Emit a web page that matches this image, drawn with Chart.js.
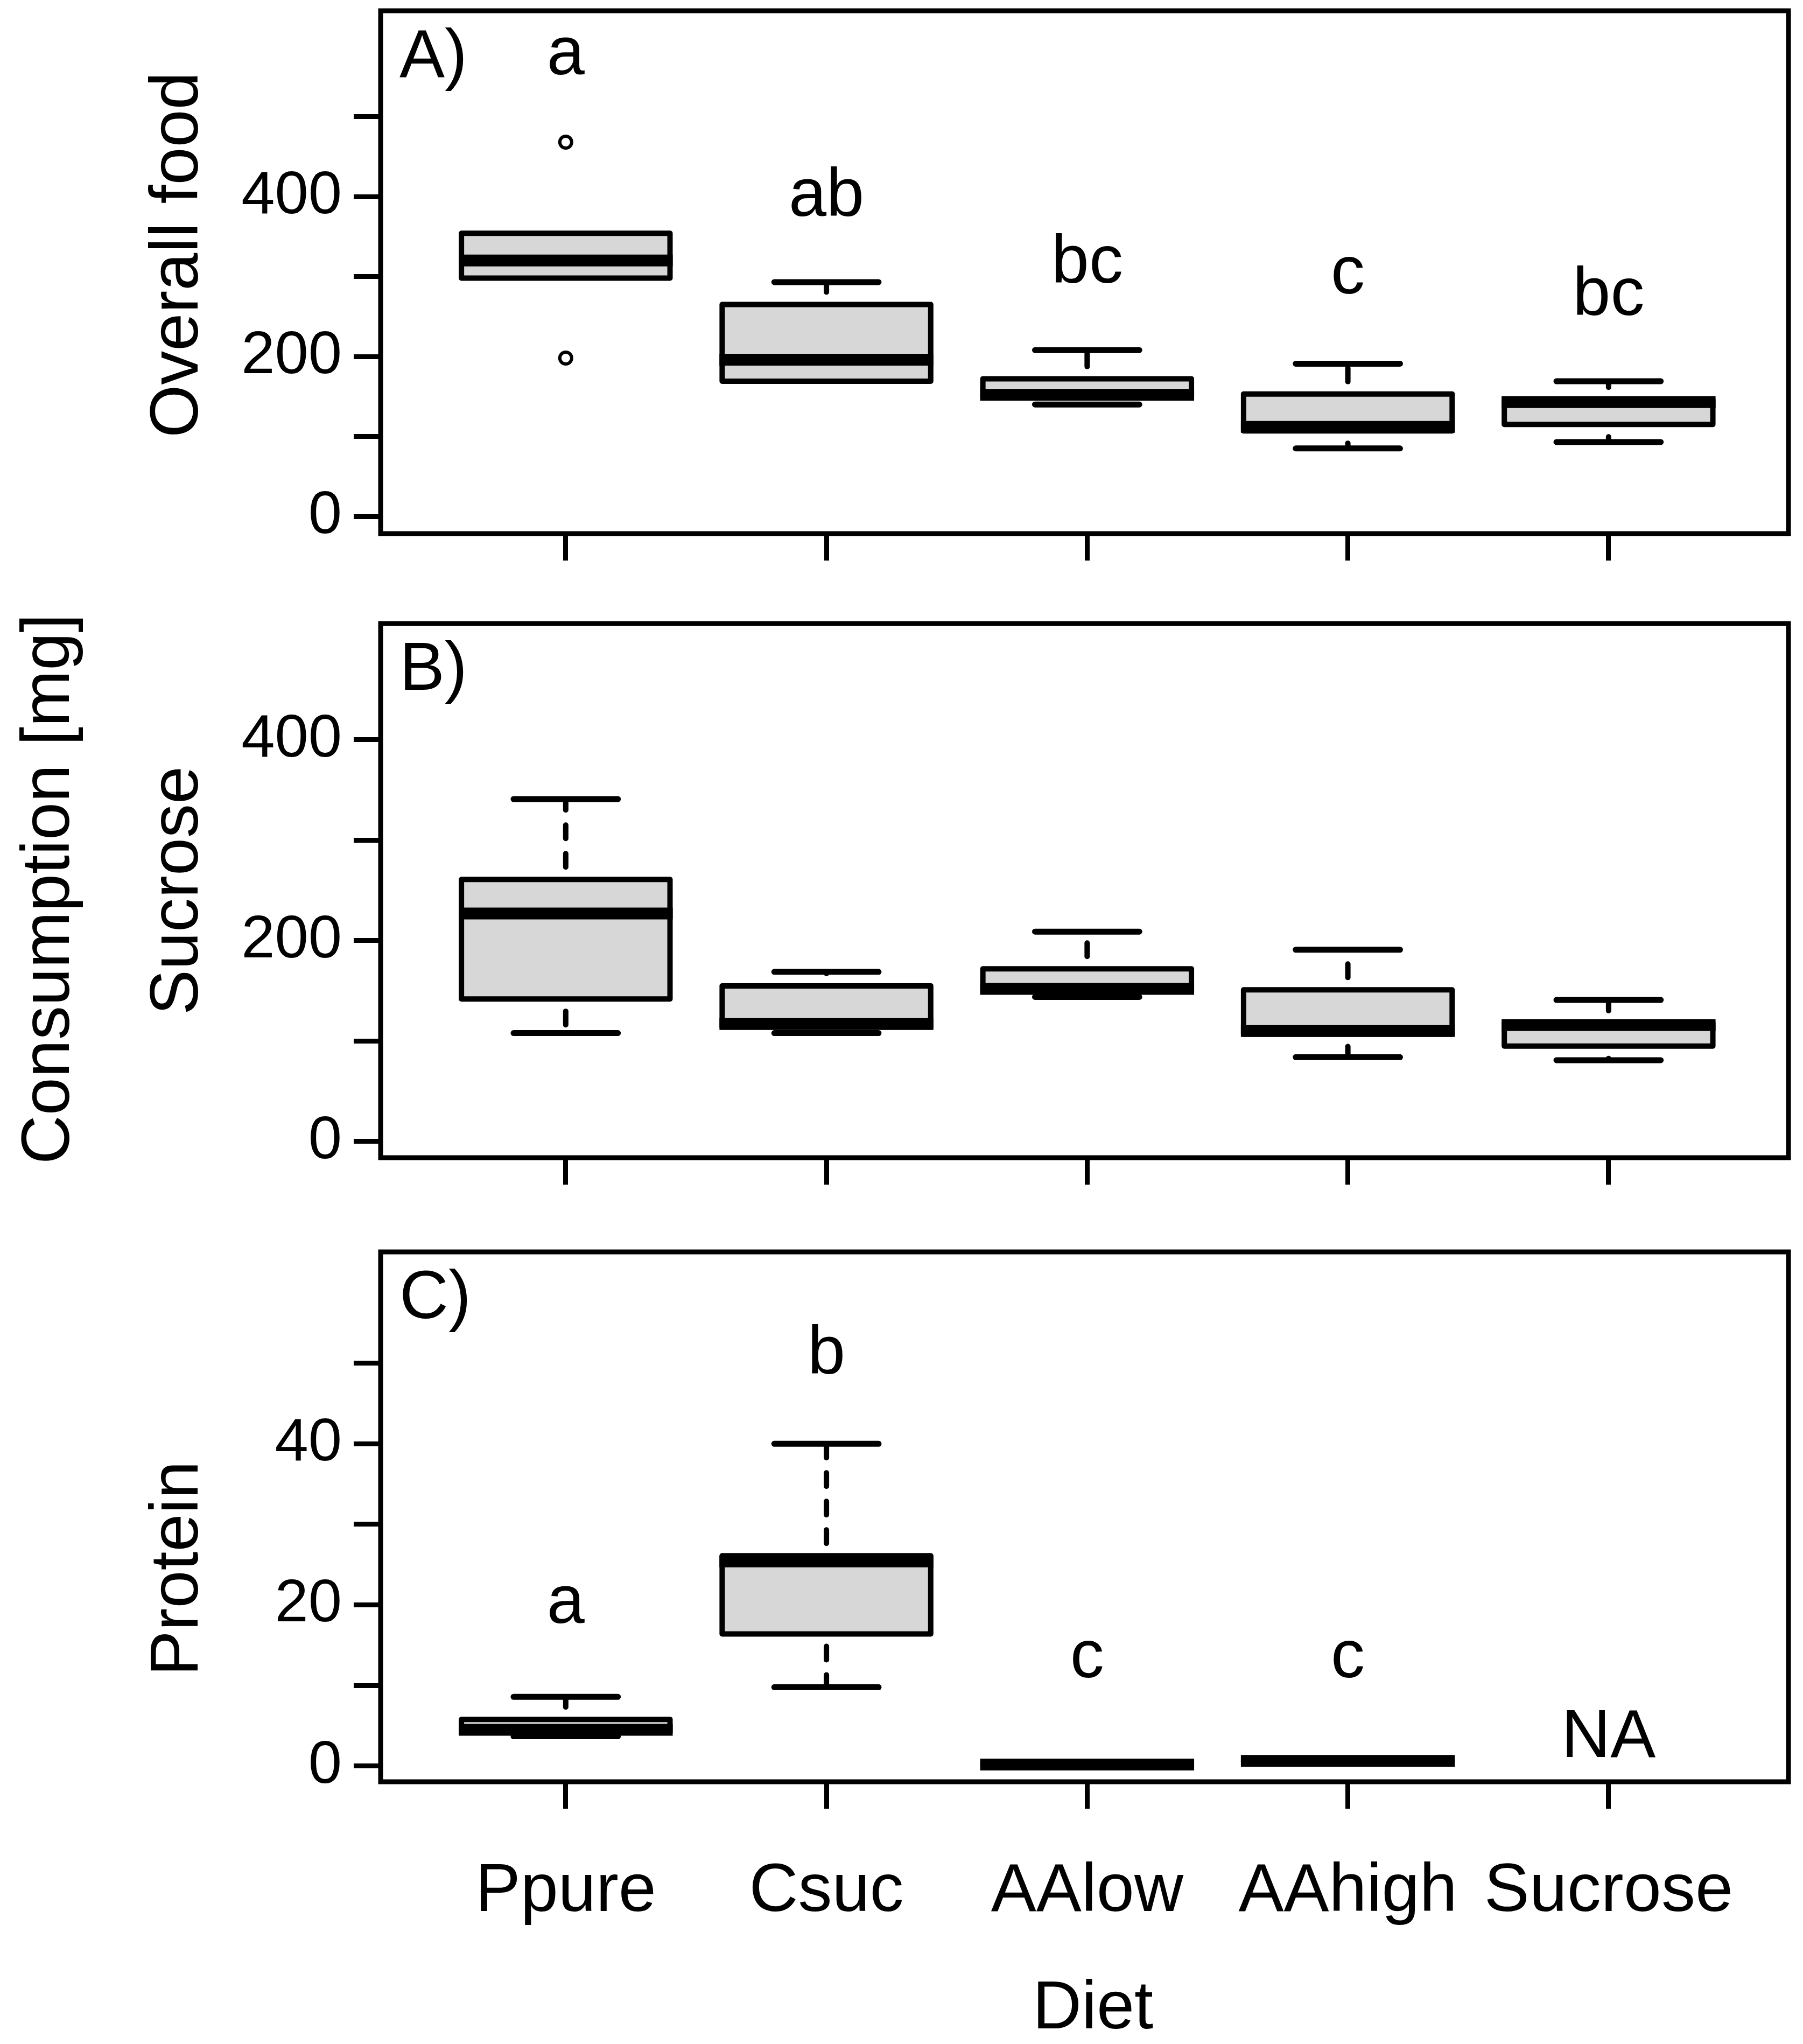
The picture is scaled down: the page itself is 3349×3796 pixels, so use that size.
<!DOCTYPE html>
<html>
<head>
<meta charset="utf-8">
<script src="https://cdn.jsdelivr.net/npm/chart.js@4.4.1/dist/chart.umd.min.js"></script>
<style>
  html, body { margin: 0; padding: 0; background: #fff; }
  body { width: 3349px; height: 3796px; position: relative; overflow: hidden; }
  canvas { position: absolute; left: 0; }
</style>
</head>
<body>
<canvas id="panelA" width="3349" height="1100" style="top:0px"></canvas>
<canvas id="panelB" width="3349" height="1150" style="top:1100px"></canvas>
<canvas id="panelC" width="3349" height="1546" style="top:2250px"></canvas>
<script>
// Diet groups, in plotting order
const diets = ["Ppure", "Csuc", "AAlow", "AAhigh", "Sucrose"];

// Box statistics: [lower whisker, Q1, median, Q3, upper whisker]
const overallFood = [
  [298, 298, 320, 354, 354],
  [169, 169, 196, 265, 293],
  [140, 149, 152, 172, 208],
  [85, 107, 112, 153, 191],
  [93, 115, 143, 146, 169],
];
const overallOutliers = [
  { x: 1, y: 468 },
  { x: 1, y: 198 },
];
const sucrose = [
  [108, 142, 227, 261, 341],
  [108, 114, 117, 155, 169],
  [144, 149, 152, 172, 209],
  [84, 107, 110, 151, 191],
  [81, 95, 116, 118, 141],
];
// no protein in the Sucrose diet (NA)
const protein = [
  [3.7, 4.2, 4.5, 5.8, 8.6],
  [9.8, 16.4, 25.4, 26.1, 40],
  [0.1, 0.15, 0.2, 0.25, 0.3],
  [0.5, 0.55, 0.65, 0.75, 0.8],
  null,
];

// Significance letters and the value they sit at
const lettersA = ["a", "ab", "bc", "c", "bc"];
const letterAtA = [553, 376, 292, 279, 252];
const lettersC = ["a", "b", "c", "c", "NA"];
const letterAtC = [17.8, 48.7, 11.0, 11.0, 1.1];

// Axis ticks
const yTicksA = [0, 100, 200, 300, 400, 500];
const yLabelsA = ["0", "", "200", "", "400", ""];
const yTicksB = [0, 100, 200, 300, 400];
const yLabelsB = ["0", "", "200", "", "400"];
const yTicksC = [0, 10, 20, 30, 40, 50];
const yLabelsC = ["0", "", "20", "", "40", ""];

const FONT = '"Liberation Sans", Arial, Helvetica, sans-serif';
Chart.defaults.font.family = FONT;
Chart.defaults.color = "#000";

// whiskers, staples, box outline and median on top of the bars
const boxParts = {
  id: "boxParts",
  afterDatasetsDraw(chart, args, opts) {
    const { ctx, scales: { x, y } } = chart;
    const unit = x.getPixelForValue(2) - x.getPixelForValue(1);
    ctx.save();
    ctx.strokeStyle = "#000";
    opts.stats.forEach((s, i) => {
      if (!s) return;
      const [lo, q1, med, q3, hi] = s;
      const cx = x.getPixelForValue(i + 1);
      const half = 0.4 * unit;

      // dashed whiskers
      ctx.lineWidth = 10;
      ctx.lineCap = "round";
      ctx.setLineDash([25, 28]);
      ctx.lineDashOffset = 30;
      [[q1, lo], [q3, hi]].forEach(([from, to]) => {
        if (from === to) return;
        ctx.beginPath();
        ctx.moveTo(cx, y.getPixelForValue(from));
        ctx.lineTo(cx, y.getPixelForValue(to));
        ctx.stroke();
      });
      ctx.setLineDash([]);

      // staples
      ctx.lineWidth = 11;
      [[lo, q1], [hi, q3]].forEach(([v, hinge]) => {
        if (v === hinge) return;
        ctx.beginPath();
        ctx.moveTo(cx - half / 2, y.getPixelForValue(v));
        ctx.lineTo(cx + half / 2, y.getPixelForValue(v));
        ctx.stroke();
      });

      // box outline
      ctx.lineWidth = 10;
      ctx.lineCap = "butt";
      ctx.lineJoin = "round";
      const top = y.getPixelForValue(q3);
      const bot = y.getPixelForValue(q1);
      ctx.strokeRect(cx - half, top, 2 * half, bot - top);

      // median
      ctx.lineWidth = 22;
      ctx.beginPath();
      ctx.moveTo(cx - half - 5, y.getPixelForValue(med));
      ctx.lineTo(cx + half + 5, y.getPixelForValue(med));
      ctx.stroke();
    });
    ctx.restore();
  },
};

// frame, panel tag, letters and axis titles
const annotations = {
  id: "annotations",
  afterDraw(chart, args, opts) {
    const { ctx, chartArea: a, scales: { x, y } } = chart;
    ctx.save();
    ctx.strokeStyle = "#000";
    ctx.lineWidth = 9;
    ctx.strokeRect(a.left, a.top, a.right - a.left, a.bottom - a.top);

    ctx.fillStyle = "#000";
    ctx.font = `126px ${FONT}`;
    ctx.textBaseline = "alphabetic";
    ctx.textAlign = "left";
    ctx.fillText(opts.tag, a.left + 35, a.top + 123);

    ctx.textAlign = "center";
    (opts.letters || []).forEach((t, i) => {
      ctx.fillText(t, x.getPixelForValue(i + 1), y.getPixelForValue(opts.letterAt[i]));
    });

    opts.titles.forEach((t) => {
      ctx.save();
      ctx.translate(t.x, t.y);
      ctx.rotate(t.rot || 0);
      ctx.fillText(t.text, 0, 0);
      ctx.restore();
    });
    ctx.restore();
  },
};

function makePanel(id, cfg) {
  const ctx = document.getElementById(id).getContext("2d");
  const boxes = [];
  cfg.stats.forEach((s, i) => {
    if (s) boxes.push({ x: i + 1, y: [s[1], s[3]] });
  });
  const tickGrid = {
    drawOnChartArea: false,
    drawTicks: true,
    offset: false,
    tickLength: 50,
    color: "#000",
    lineWidth: 9,
  };
  return new Chart(ctx, {
    type: "bar",
    data: {
      datasets: [
        {
          type: "bar",
          data: boxes,
          backgroundColor: "#d7d7d7",
          borderWidth: 0,
          barPercentage: 0.8,
          categoryPercentage: 1,
        },
        {
          type: "scatter",
          data: cfg.outliers || [],
          pointRadius: 11,
          pointBorderWidth: 6,
          pointBackgroundColor: "rgba(0,0,0,0)",
          pointBorderColor: "#000",
        },
      ],
    },
    options: {
      responsive: false,
      animation: false,
      devicePixelRatio: 1,
      layout: { padding: { top: cfg.top, right: 27, bottom: 0, left: 0 } },
      plugins: {
        legend: { display: false },
        tooltip: { enabled: false },
        boxParts: { stats: cfg.stats },
        annotations: {
          tag: cfg.tag,
          letters: cfg.letters,
          letterAt: cfg.letterAt,
          titles: cfg.titles,
        },
      },
      scales: {
        x: {
          type: "linear",
          offset: false,
          min: 0.29,
          max: 5.69,
          afterBuildTicks: (axis) => {
            axis.ticks = diets.map((d, i) => ({ value: i + 1 }));
          },
          ticks: {
            autoSkip: false,
            maxRotation: 0,
            padding: 80,
            color: "#000",
            font: { size: 126 },
            callback: (v, i) => (cfg.showNames ? diets[i] : ""),
          },
          grid: tickGrid,
          border: { display: false },
          afterFit: (axis) => {
            axis.height = cfg.xHeight;
            axis.paddingLeft = 0;
            axis.paddingRight = 0;
          },
        },
        y: {
          min: cfg.yMin,
          max: cfg.yMax,
          afterBuildTicks: (axis) => {
            axis.ticks = cfg.yTicks.map((v) => ({ value: v }));
          },
          ticks: {
            autoSkip: false,
            padding: 22,
            color: "#000",
            font: { size: 112 },
            callback: (v, i) => cfg.yLabels[i],
          },
          grid: tickGrid,
          border: { display: false },
          afterFit: (axis) => {
            axis.width = 707;
            axis.paddingTop = 0;
            axis.paddingBottom = 0;
          },
        },
      },
    },
    plugins: [boxParts, annotations],
  });
}

window.onload = () => {
  makePanel("panelA", {
    stats: overallFood,
    outliers: overallOutliers,
    top: 20,
    xHeight: 109,
    yMin: -21.5,
    yMax: 632.3,
    yTicks: yTicksA,
    yLabels: yLabelsA,
    tag: "A)",
    letters: lettersA,
    letterAt: letterAtA,
    titles: [{ text: "Overall food", x: 367, y: 473, rot: -Math.PI / 2 }],
  });

  makePanel("panelB", {
    stats: sucrose,
    top: 58,
    xHeight: 100,
    yMin: -16.1,
    yMax: 515.8,
    yTicks: yTicksB,
    yLabels: yLabelsB,
    tag: "B)",
    titles: [
      { text: "Sucrose", x: 367, y: 554, rot: -Math.PI / 2 },
      { text: "Consumption [mg]", x: 128, y: 551, rot: -Math.PI / 2 },
    ],
  });

  makePanel("panelC", {
    stats: protein,
    top: 75,
    xHeight: 487,
    yMin: -1.94,
    yMax: 63.8,
    yTicks: yTicksC,
    yLabels: yLabelsC,
    tag: "C)",
    letters: lettersC,
    letterAt: letterAtC,
    showNames: true,
    titles: [
      { text: "Protein", x: 367, y: 663, rot: -Math.PI / 2 },
      { text: "Diet", x: 2030, y: 1517 },
    ],
  });
};
</script>
</body>
</html>
